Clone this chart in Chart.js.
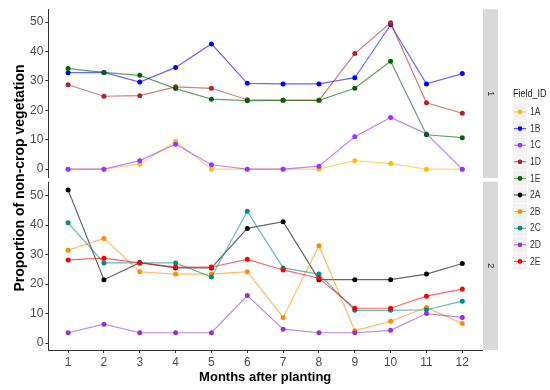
<!DOCTYPE html>
<html><head><meta charset="utf-8">
<script src="https://cdn.jsdelivr.net/npm/chart.js@4/dist/chart.umd.min.js"></script>
<style>html,body{margin:0;padding:0;background:#fff;}#wrap{position:relative;width:550px;height:390px;}</style>
</head><body><div id="wrap"><canvas id="c" width="550" height="390"></canvas></div>
<script>
// ---- data ----
const months = [1,2,3,4,5,6,7,8,9,10,11,12];
const fieldIds = ['1A','1B','1C','1D','1E','2A','2B','2C','2D','2E'];
const field1A = [0,0,1.7,9.5,0,0,0,0,2.9,1.9,0,0];
const field1B = [32.8,32.9,29.6,34.6,42.6,29.2,29.0,29.0,31.1,49.1,29.0,32.5];
const field1C = [0,0,2.9,8.5,1.5,0,0,1.0,11.0,17.6,12.0,0];
const field1D = [28.7,24.8,25.0,28.0,27.5,23.6,23.4,23.4,39.3,49.8,22.6,19.0];
const field1E = [34.2,32.9,31.9,27.4,23.8,23.3,23.4,23.4,27.5,36.7,11.7,10.7];
const field2A = [51.9,21.5,27.3,25.5,25.5,38.9,41.2,21.5,21.5,21.5,23.4,27.0];
const field2B = [31.5,35.5,24.2,23.4,23.4,24.2,8.7,33.0,4.2,7.4,12.1,6.6];
const field2C = [40.8,27.2,27.2,27.2,22.4,44.7,25.5,23.4,11.1,11.1,11.3,14.2];
const field2D = [3.5,6.4,3.5,3.5,3.5,16.1,4.7,3.5,3.5,4.3,10.0,8.7];
const field2E = [28.2,28.8,27.2,25.8,25.8,28.4,24.8,22.0,11.8,11.8,15.9,18.3];
const panelLabels = ['1','2'];
const yTickValues = [0,10,20,30,40,50];
const xTickValues = months;

// ---- styles ----
const seriesValues = [field1A,field1B,field1C,field1D,field1E,field2A,field2B,field2C,field2D,field2E];
const seriesColors = ['#FFB90F','#0000FF','#9B30FF','#B22222','#006400','#000000','#FF8C00','#008B8B','#9932CC','#FF0000'];
function rgba(hex,a){const n=parseInt(hex.slice(1),16);return `rgba(${n>>16&255},${n>>8&255},${n&255},${a})`;}
const FONT = "'Liberation Sans', Arial, sans-serif";

const datasets = fieldIds.map((id,i)=>({
  label:id,
  data: months.map((m,j)=>({x:m,y:seriesValues[i][j]})),
  yAxisID: id[0]==='1' ? 'yTop' : 'yBot',
  borderColor: rgba(seriesColors[i],0.6),
  backgroundColor: seriesColors[i],
  pointBackgroundColor: seriesColors[i],
  pointBorderWidth:0,
  pointRadius:2.5,
  borderWidth:1.2,
  tension:0,
  order: fieldIds.length - i
}));

const axisTick = {drawOnChartArea:false, drawTicks:true, tickLength:3, color:'#333', tickColor:'#333'};
const tickFont = {family:FONT, size:12};

function yScale(min,max){
  return {
    type:'linear', position:'left', stack:'panels', stackWeight:1,
    min, max,
    afterBuildTicks: s => { s.ticks = yTickValues.map(v=>({value:v})); },
    afterFit: s => { s.width = 48.4; },
    ticks:{color:'#4d4d4d', font:tickFont, padding:2},
    grid: axisTick,
    border:{display:true, color:'#333', width:1}
  };
}

const extras = {
  id:'extras',
  afterDraw(chart){
    const ctx = chart.ctx;
    const top = chart.scales.yTop, bot = chart.scales.yBot;
    ctx.save();
    // gap between panels
    ctx.fillStyle = '#fff';
    ctx.fillRect(40, top.bottom-1.5, 20, 3.5);
    // strips
    const sx = chart.chartArea.right + 1, sw = 15;
    const panels = [[top.top, top.bottom-1.5],[bot.top+2, bot.bottom]];
    panels.forEach((p,k)=>{
      ctx.fillStyle = '#d9d9d9';
      ctx.fillRect(sx, p[0], sw, p[1]-p[0]);
      ctx.save();
      ctx.translate(sx+sw/2, (p[0]+p[1])/2);
      ctx.rotate(Math.PI/2);
      ctx.fillStyle = '#1a1a1a';
      ctx.font = `9px ${FONT}`;
      ctx.textAlign='center'; ctx.textBaseline='middle';
      ctx.fillText(panelLabels[k],0,0);
      ctx.restore();
    });
    // axis titles
    ctx.fillStyle = '#000';
    ctx.font = `bold 13px ${FONT}`;
    ctx.textAlign='center'; ctx.textBaseline='middle';
    ctx.fillText('Months after planting', (chart.chartArea.left+chart.chartArea.right)/2, 377);
    ctx.save();
    ctx.translate(20.5, 178);
    ctx.rotate(-Math.PI/2);
    ctx.font = `bold 14px ${FONT}`;
    ctx.fillText('Proportion of non-crop vegetation',0,0);
    ctx.restore();
    // legend
    const lx = 513;
    ctx.textAlign='left';
    ctx.save();
    ctx.translate(lx, 94);
    ctx.scale(0.82, 1);
    ctx.font = `11px ${FONT}`;
    ctx.fillStyle = '#1a1a1a';
    ctx.fillText('Field_ID', 0, 0);
    ctx.restore();
    fieldIds.forEach((id,i)=>{
      const y = 112 + i*16.6;
      ctx.fillStyle = '#f2f2f2';
      ctx.fillRect(lx, y-8, 14, 16);
      ctx.strokeStyle = rgba(seriesColors[i],0.6);
      ctx.lineWidth = 1.2;
      ctx.beginPath(); ctx.moveTo(lx+1, y); ctx.lineTo(lx+13, y); ctx.stroke();
      ctx.fillStyle = seriesColors[i];
      ctx.beginPath(); ctx.arc(lx+7, y, 2.4, 0, Math.PI*2); ctx.fill();
      ctx.save();
      ctx.translate(lx+17, y+0.5);
      ctx.scale(0.85, 1);
      ctx.fillStyle = '#333';
      ctx.font = `10px ${FONT}`;
      ctx.fillText(id, 0, 0);
      ctx.restore();
    });
    ctx.restore();
  }
};

new Chart(document.getElementById('c'), {
  type:'line',
  data:{datasets},
  options:{
    responsive:false, animation:false, devicePixelRatio:1,
    layout:{padding:{left:0,right:68,top:7,bottom:0}},
    plugins:{legend:{display:false}, tooltip:{enabled:false}},
    scales:{
      x:{
        type:'linear', min:0.45, max:12.55,
        afterBuildTicks: s => { s.ticks = xTickValues.map(v=>({value:v})); },
        afterFit: s => { s.height = 40; },
        ticks:{color:'#4d4d4d', font:tickFont, padding:2, maxRotation:0, autoSkip:false},
        grid: axisTick,
        border:{display:true, color:'#333', width:1}
      },
      yBot: yScale(-2.36, 55.46),
      yTop: yScale(-3.55, 54.4)
    }
  },
  plugins:[extras]
});
</script></body></html>
